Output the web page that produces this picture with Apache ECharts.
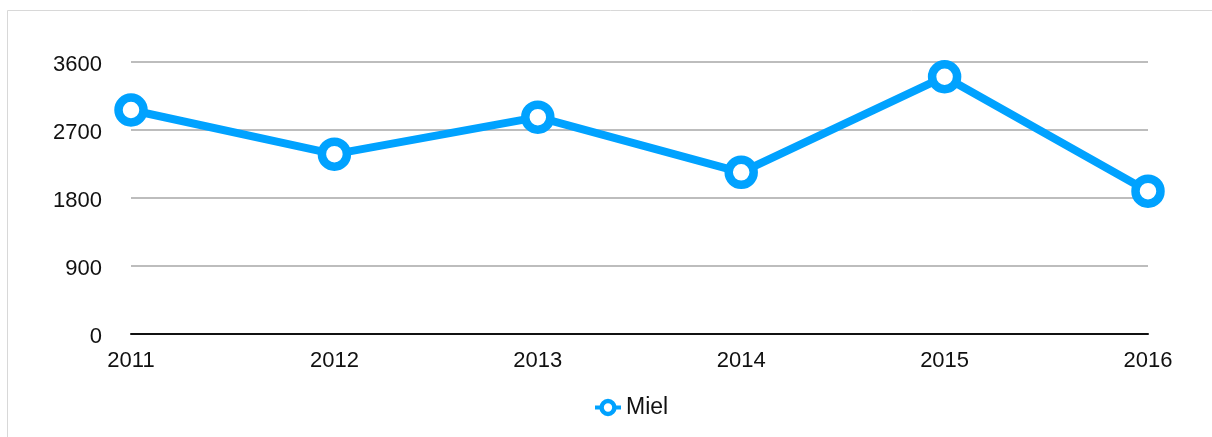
<!DOCTYPE html>
<html>
<head>
<meta charset="utf-8">
<script src="https://cdn.jsdelivr.net/npm/echarts@6/dist/echarts.min.js"></script>
<style>
html,body{margin:0;padding:0;background:#fff;}
#chart{width:1212px;height:437px;}
</style>
</head>
<body>
<div id="chart"></div>
<script>
const categories = ['2011', '2012', '2013', '2014', '2015', '2016'];
const mielValues = [2965, 2380, 2870, 2140, 3405, 1890];
const seriesName = 'Miel';
const yTicks = [0, 900, 1800, 2700, 3600];

const chart = echarts.init(document.getElementById('chart'), null, {renderer: 'canvas'});
const blue = '#00a2ff';
const font = '"Liberation Sans", Arial, Helvetica, sans-serif';
chart.setOption({
  animation: false,
  backgroundColor: '#ffffff',
  graphic: [{
    type: 'rect',
    shape: {x: 7.5, y: 10.5, width: 1400, height: 600},
    style: {fill: 'none', stroke: '#d8d8d8', lineWidth: 1},
    silent: true,
    z: -10
  }],
  grid: {left: 131, right: 64, top: 62, bottom: 103, containLabel: false},
  legend: {
    data: [seriesName],
    bottom: 13,
    left: 588,
    itemWidth: 26,
    itemHeight: 16,
    itemGap: 12,
    itemStyle: {borderWidth: 4.5},
    lineStyle: {width: 4},
    textStyle: {fontSize: 23, color: '#111', fontFamily: font}
  },
  xAxis: {
    type: 'category',
    data: categories,
    boundaryGap: false,
    axisLine: {show: true, lineStyle: {color: '#111', width: 2}},
    axisTick: {show: false},
    axisLabel: {fontSize: 22, color: '#111', fontFamily: font, margin: 16},
    splitLine: {show: false}
  },
  yAxis: {
    type: 'value',
    min: yTicks[0],
    max: yTicks[yTicks.length - 1],
    interval: 900,
    axisLine: {show: false},
    axisTick: {show: false},
    axisLabel: {
      color: '#111', margin: 29,
      formatter: v => '{t|' + String(v) + '}',
      rich: {t: {fontSize: 22, color: '#111', fontFamily: font, padding: [6, 0, 0, 0]}}
    },
    splitLine: {show: true, lineStyle: {color: '#bdbdbd', width: 2}}
  },
  series: [{
    name: seriesName,
    type: 'line',
    data: mielValues,
    symbol: 'circle',
    symbolSize: 25,
    lineStyle: {color: blue, width: 8},
    itemStyle: {color: '#ffffff', borderColor: blue, borderWidth: 8.5},
    emphasis: {disabled: true}
  }]
});
</script>
</body>
</html>
